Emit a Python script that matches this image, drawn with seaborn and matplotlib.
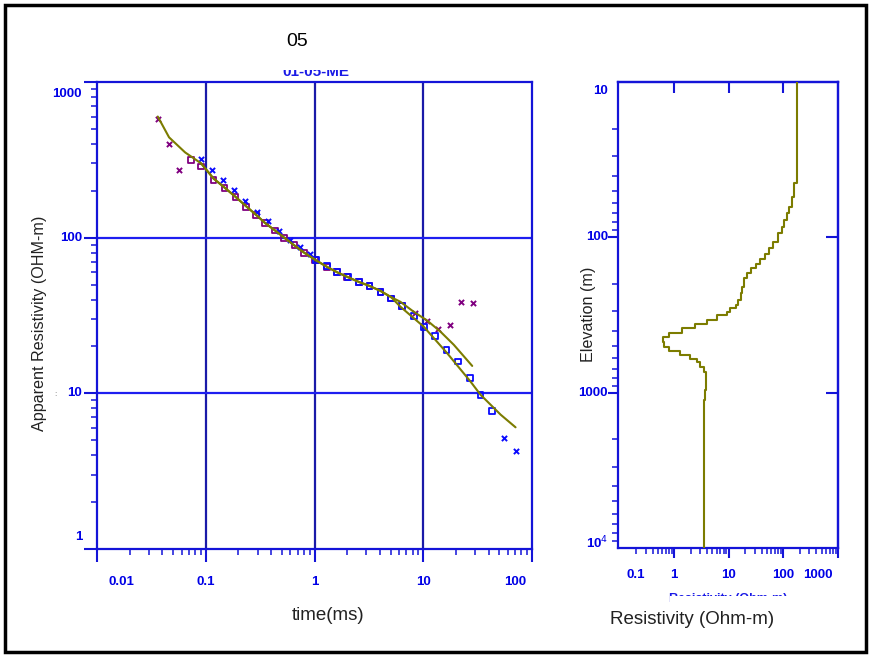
import numpy as np
import pandas as pd
import matplotlib
matplotlib.use("Agg")
import matplotlib.pyplot as plt
import seaborn as sns
from matplotlib.patches import Rectangle
from matplotlib.ticker import LogLocator, NullFormatter, FixedLocator

# ---------------- data ----------------
title_text = "05"
subtitle_text = "01-05-ME"

# low-moment (purple) sounding
purple_sq_t = [0.073, 0.0907, 0.1178, 0.1486, 0.1877, 0.2355, 0.291, 0.352, 0.435, 0.527,
               0.656, 0.805, 1.017, 1.30, 1.61, 1.99, 2.55, 3.20, 4.04, 5.06, 6.39]
purple_sq_r = [316, 286, 235, 208, 182, 158, 140, 124, 111, 100,
               89.3, 79.7, 71.6, 64.9, 60.2, 56.0, 52.0, 48.8, 44.9, 40.7, 36.3]
purple_x_t = [0.0362, 0.046, 0.0573, 8.47, 10.9, 13.7, 17.5, 22.3, 28.6]
purple_x_r = [577, 400, 272, 32.9, 29.3, 25.9, 27.5, 38.7, 38.2]

# high-moment (blue) sounding
blue_x_t = [0.0907, 0.1146, 0.1455, 0.1838, 0.232, 0.296, 0.373, 0.471, 0.590, 0.740, 0.915, 55.1, 71.6]
blue_x_r = [320, 272, 233, 201, 171, 147, 128, 111, 97.1, 87.1, 78.2, 5.13, 4.29]
blue_sq_t = [1.03, 1.30, 1.61, 2.02, 2.55, 3.20, 4.04, 5.06, 6.39, 8.18, 10.1, 12.9, 16.4, 20.9,
             26.8, 33.6, 43.1]
blue_sq_r = [71.6, 65.8, 60.2, 56.0, 52.0, 48.8, 44.9, 40.7, 36.3, 31.4, 26.8, 23.4, 19.0, 16.0,
             12.5, 9.8, 7.66]

# model responses
fit1_t = [0.0362, 0.046, 0.0646, 0.0907, 0.1178, 0.1486, 0.1877, 0.2355, 0.291, 0.352, 0.435,
          0.527, 0.656, 0.805, 1.017, 1.30, 1.61, 2.0, 2.55, 3.2, 4.04, 5.06, 6.17, 8.18, 10.9,
          14.4, 19.1, 28.2]
fit1_r = [600, 441, 353, 300, 240, 210, 183, 159, 140, 124, 111,
          100, 89, 80, 72, 65, 60, 56, 52, 49, 45.5, 41.5, 38.7, 33.4, 29.3,
          24.9, 20.5, 15.0]
fit2_t = [0.0907, 0.1178, 0.1486, 0.1877, 0.2355, 0.291, 0.352, 0.435, 0.527, 0.656, 0.805,
          1.017, 1.30, 1.61, 2.0, 2.55, 3.2, 4.04, 5.06, 6.17, 10.1, 16.6, 27.2, 33.6, 51.4, 70.6]
fit2_r = [300, 240, 210, 183, 159, 140, 124, 111, 100, 89, 80,
          72, 65, 60, 56, 52, 49, 45.5, 41.5, 36.0, 26.8, 18.1, 11.9, 9.8, 7.30, 6.05]

# layered resistivity model (top depth of layer, resistivity)
model_depth = [10, 37.8, 44.9, 54.8, 63.5, 70.1, 77.4, 85.5, 94.2, 106.7, 117.8, 128.1, 138.6,
               148.6, 158.4, 170.6, 183.7, 208, 229.4, 253.4, 272.9, 286.4, 301.3, 316.4, 340.8,
               363.3, 385.5, 411.4, 436.5, 469.9, 506.3, 537.4, 572.6, 610.4, 632.4, 681, 733.5,
               850.4, 961.7, 1116, 1359, 10000]
model_rho = [176.6, 176.6, 157.4, 141, 127.4, 115.5, 103, 92.3, 77.9, 64.6, 54.5, 45.4, 37.2,
             31.0, 25.1, 21.2, 18.9, 17.7, 16.4, 14.9, 13.3, 10.7, 9.34, 6.11, 4.0,
             2.44, 1.39, 0.785, 0.62, 0.635, 0.785, 1.29, 1.97, 2.62, 3.01, 3.57, 3.84,
             3.84, 3.61, 3.47, 3.47, 3.47]

left_xticks = [0.01, 0.1, 1, 10, 100]
left_xticklabels = ["0.01", "0.1", "1", "10", "100"]
left_yticks = [1, 10, 100, 1000]
left_yticklabels = ["1", "10", "100", "1000"]
right_xticks = [0.1, 1, 10, 100, 1000]
right_xticklabels = ["0.1", "1", "10", "100", "1000"]
right_yticks = [10, 100, 1000, 10000]
right_yticklabels = ["10", "100", "1000", "10$^4$"]

# ---------------- style ----------------
sns.set_theme(style="white")
plt.rcParams['font.family'] = ['Liberation Sans', 'DejaVu Sans']

W, H = 869, 655
fig = plt.figure(figsize=(W / 100, H / 100), dpi=100)
fig.patch.set_facecolor("white")

def fx(px):
    return px / W

def fy(py):
    return 1 - py / H

BLUE = "#1414d8"
GRID_V = "#1a1aa8"
GRID_H = "#1e1ef0"
OLIVE = "#7c7c00"
PURPLE = "#800080"
MBLUE = "#0a0aff"
TICKFONT = dict(family=['Liberation Sans Narrow', 'Liberation Sans', 'DejaVu Sans'],
                weight='bold', color='#0000e6', size=9.5)

# ---------------- left plot ----------------
axL = fig.add_axes([fx(97), fy(549), fx(532) - fx(97), fy(82) - fy(549)])
axL.set_xscale("log")
axL.set_yscale("log")
axL.set_xlim(0.01, 100)
axL.set_ylim(1, 1000)

for xv in [0.1, 1, 10]:
    axL.axvline(xv, color=GRID_V, lw=1.6, zorder=1)
for yv in [10, 100]:
    axL.axhline(yv, color=GRID_H, lw=1.6, zorder=1)

df_p_sq = pd.DataFrame({"t": purple_sq_t, "r": purple_sq_r})
df_p_x = pd.DataFrame({"t": purple_x_t, "r": purple_x_r})
df_b_sq = pd.DataFrame({"t": blue_sq_t, "r": blue_sq_r})
df_b_x = pd.DataFrame({"t": blue_x_t, "r": blue_x_r})

sns.scatterplot(data=df_p_sq, x="t", y="r", ax=axL, marker="s", s=17,
                facecolor="none", edgecolor=PURPLE, linewidth=1.3, zorder=3)
sns.scatterplot(data=df_p_x, x="t", y="r", ax=axL, marker="x", s=14,
                color=PURPLE, linewidth=1.4, zorder=3)
sns.scatterplot(data=df_b_sq, x="t", y="r", ax=axL, marker="s", s=17,
                facecolor="none", edgecolor=MBLUE, linewidth=1.3, zorder=3)
sns.scatterplot(data=df_b_x, x="t", y="r", ax=axL, marker="x", s=14,
                color=MBLUE, linewidth=1.4, zorder=3)

df_f1 = pd.DataFrame({"t": fit1_t, "r": fit1_r})
df_f2 = pd.DataFrame({"t": fit2_t, "r": fit2_r})
sns.lineplot(data=df_f1, x="t", y="r", ax=axL, sort=False, estimator=None,
             color=OLIVE, lw=1.5, zorder=4)
sns.lineplot(data=df_f2, x="t", y="r", ax=axL, sort=False, estimator=None,
             color=OLIVE, lw=1.5, zorder=4)

axL.set_xlabel("")
axL.set_ylabel("")
for sp in axL.spines.values():
    sp.set_color(BLUE)
    sp.set_linewidth(1.6)
axL.xaxis.set_major_locator(FixedLocator(left_xticks))
axL.yaxis.set_major_locator(FixedLocator(left_yticks))
axL.xaxis.set_minor_locator(LogLocator(base=10, subs=np.arange(2, 10)))
axL.yaxis.set_minor_locator(LogLocator(base=10, subs=np.arange(2, 10)))
axL.xaxis.set_major_formatter(NullFormatter())
axL.yaxis.set_major_formatter(NullFormatter())
axL.xaxis.set_minor_formatter(NullFormatter())
axL.yaxis.set_minor_formatter(NullFormatter())
axL.tick_params(which="major", direction="out", length=9.5, width=1.5, color=BLUE,
                bottom=True, left=True, top=False, right=False)
axL.tick_params(which="minor", direction="out", length=4.5, width=1.1, color=BLUE,
                bottom=True, left=True, top=False, right=False)

# tick labels (clamped inside like original software)
xoffs = [24, 0, 0, 0, -17]
for v, lab, off in zip(left_xticks, left_xticklabels, xoffs):
    axL.annotate(lab, xy=(v, 0), xycoords=("data", "axes fraction"),
                 xytext=(off, -33), textcoords="offset pixels",
                 ha="center", va="center", **TICKFONT)
yoffs = [12, 0, 0, -12]
for v, lab, off in zip(left_yticks, left_yticklabels, yoffs):
    axL.annotate(lab, xy=(0, v), xycoords=("axes fraction", "data"),
                 xytext=(-15, off), textcoords="offset pixels",
                 ha="right", va="center", **TICKFONT)

# ---------------- right plot ----------------
axR = fig.add_axes([fx(618), fy(548), fx(838) - fx(618), fy(82) - fy(548)])
axR.set_xscale("log")
axR.set_yscale("log")
axR.set_xlim(0.093, 1000)
axR.set_ylim(10000, 10)

df_m = pd.DataFrame({"rho": model_rho, "depth": model_depth})
axR.plot(df_m["rho"], df_m["depth"], drawstyle="steps-pre", color=OLIVE, lw=1.5, zorder=3)

for sp in axR.spines.values():
    sp.set_color(BLUE)
    sp.set_linewidth(1.6)
axR.xaxis.set_major_locator(FixedLocator([1, 10, 100, 1000]))
axR.yaxis.set_major_locator(FixedLocator([100, 1000]))
axR.xaxis.set_minor_locator(LogLocator(base=10, subs=np.arange(2, 10)))
axR.yaxis.set_minor_locator(LogLocator(base=10, subs=np.arange(2, 10)))
for a in (axR.xaxis, axR.yaxis):
    a.set_major_formatter(NullFormatter())
    a.set_minor_formatter(NullFormatter())
axR.tick_params(which="major", direction="out", length=7.5, width=1.5, color=BLUE,
                bottom=True, left=True, top=False, right=False)
axR.tick_params(which="minor", direction="out", length=4, width=1.1, color=BLUE,
                bottom=True, left=True, top=False, right=False)

secx = axR.secondary_xaxis("top")
secx.set_xticks([1, 10, 100])
secx.xaxis.set_minor_locator(FixedLocator([]))
secx.xaxis.set_major_formatter(NullFormatter())
secx.tick_params(which="major", direction="in", length=8, width=1.5, color=BLUE)
secx.spines["top"].set_color(BLUE)
secx.spines["top"].set_linewidth(1.6)

secy = axR.secondary_yaxis("right")
secy.set_yticks([100, 1000])
secy.yaxis.set_minor_locator(FixedLocator([]))
secy.yaxis.set_major_formatter(NullFormatter())
secy.tick_params(which="major", direction="in", length=9, width=1.5, color=BLUE)
secy.spines["right"].set_color(BLUE)
secy.spines["right"].set_linewidth(1.6)

rxoffs = [16, 0, 0, 0, -20]
for v, lab, off in zip(right_xticks, right_xticklabels, rxoffs):
    axR.annotate(lab, xy=(v, 0), xycoords=("data", "axes fraction"),
                 xytext=(off, -27), textcoords="offset pixels",
                 ha="center", va="center", **TICKFONT)
ryoffs = [-9, 0, 0, 5]
for v, lab, off in zip(right_yticks, right_yticklabels, ryoffs):
    axR.annotate(lab, xy=(0, v), xycoords=("axes fraction", "data"),
                 xytext=(-10, off), textcoords="offset pixels",
                 ha="right", va="center", **TICKFONT)

# ---------------- figure texts ----------------
fig.text(fx(297), fy(42), title_text, ha="center", va="center", fontsize=14, color="black")
fig.text(fx(316), fy(76), subtitle_text, ha="center", va="baseline", fontsize=11,
         fontweight="bold", color="#1a1ae6", family=['Liberation Sans Narrow', 'Liberation Sans'])
fig.add_artist(Rectangle((fx(255), fy(70)), fx(120), fy(50) - fy(70), transform=fig.transFigure,
                         facecolor="white", edgecolor="none", zorder=20))

fig.text(fx(328), fy(615), "time(ms)", ha="center", va="center", fontsize=13.5, color="#222222")
fig.text(fx(40), fy(323), "Apparent Resistivity (OHM-m)", ha="center", va="center",
         rotation=90, fontsize=11.6, color="#222222")
fig.text(fx(55), fy(395), ":", ha="center", va="center", fontsize=6, color="#666666")
fig.text(fx(588), fy(314), "Elevation (m)", ha="center", va="center",
         rotation=90, fontsize=11.6, color="#222222")
fig.text(fx(692), fy(620), "Resistivity (Ohm-m)", ha="center", va="center",
         fontsize=13.5, color="#222222", zorder=25)
fig.text(fx(728), fy(593), "Resistivity (Ohm-m)", ha="center", va="top", fontsize=9,
         fontweight="bold", color="#1a1ae6", family=['Liberation Sans Narrow', 'Liberation Sans'])
fig.add_artist(Rectangle((fx(670), fy(606)), fx(120), fy(596) - fy(606), transform=fig.transFigure,
                         facecolor="white", edgecolor="none", zorder=20))

# outer frame
fig.add_artist(Rectangle((fx(5), fy(652)), fx(861), fy(5) - fy(652), transform=fig.transFigure,
                         fill=False, edgecolor="black", linewidth=2.5, zorder=30))

fig.savefig("out.png", dpi=100)
